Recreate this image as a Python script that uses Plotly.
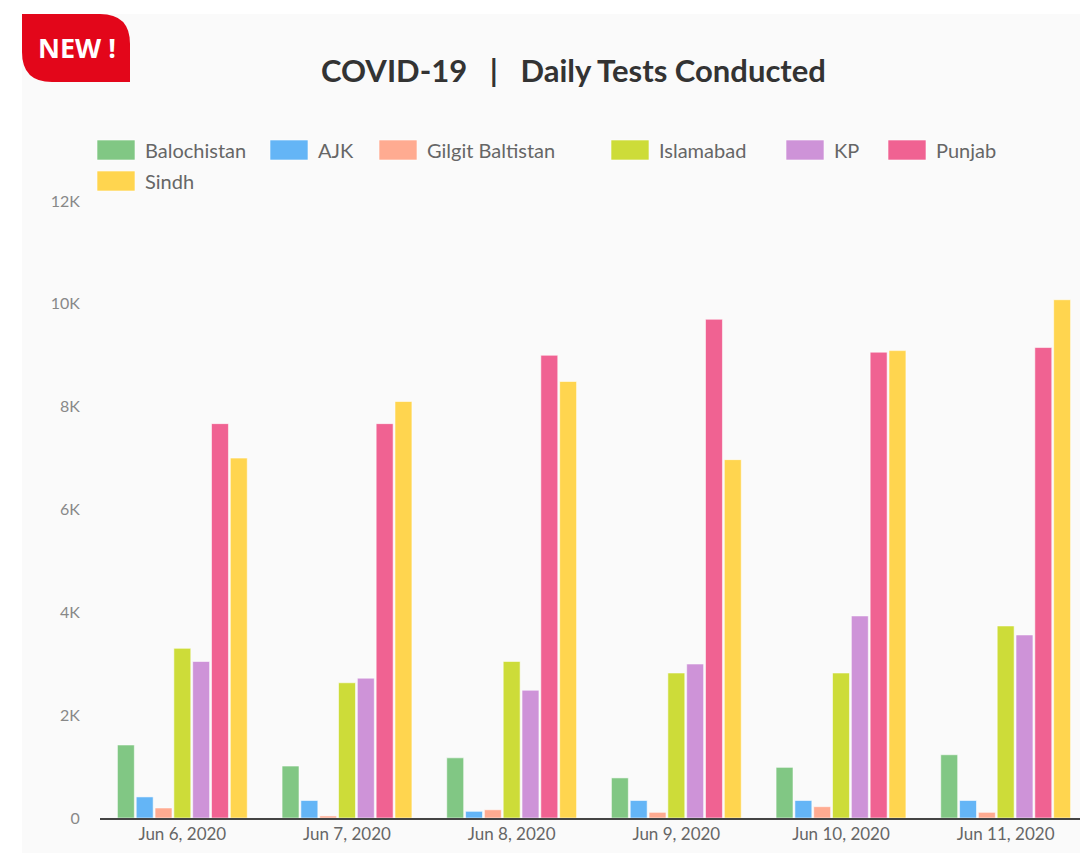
import plotly.graph_objects as go

# ---- data ----
dates = ["Jun 6, 2020", "Jun 7, 2020", "Jun 8, 2020", "Jun 9, 2020", "Jun 10, 2020", "Jun 11, 2020"]
series_names = ["Balochistan", "AJK", "Gilgit Baltistan", "Islamabad", "KP", "Punjab", "Sindh"]
balochistan = [1420, 1010, 1170, 780, 985, 1230]
ajk = [410, 340, 130, 340, 340, 340]
gilgit_baltistan = [195, 40, 160, 110, 220, 110]
islamabad = [3300, 2630, 3045, 2820, 2820, 3735]
kp = [3045, 2720, 2485, 2995, 3930, 3560]
punjab = [7670, 7670, 9000, 9700, 9060, 9150]
sindh = [7000, 8100, 8490, 6970, 9090, 10080]
series_values = [balochistan, ajk, gilgit_baltistan, islamabad, kp, punjab, sindh]
y_tickvals = [0, 2000, 4000, 6000, 8000, 10000, 12000]
y_ticktext = ["0", "2K", "4K", "6K", "8K", "10K", "12K"]

colors = ["#81C784", "#64B5F6", "#FFAB91", "#CDDC39", "#CE93D8", "#F06292", "#FFD54F"]

OFF = 8  # page body margin
W, H = 1088 - OFF, 853 - OFF
PL, PR, PT, PB = 100, 1088, 201, 818  # plot area in window pixels
ML, MR, MT, MB = PL - OFF, 1088 - PR, PT - OFF, 853 - PB
PW, PH = PR - PL, PB - PT


def px(x):
    return (x - PL) / PW


def py(y):
    return (PB - y) / PH


fig = go.Figure()
for name, vals, col in zip(series_names, series_values, colors):
    fig.add_trace(go.Bar(
        x=dates, y=vals, name=name,
        marker=dict(color=col, line=dict(color="rgba(255,255,255,0.55)", width=1)),
        showlegend=False,
    ))

shapes = []
annotations = []

# card background
shapes.append(dict(type="rect", xref="paper", yref="paper", layer="below",
                   x0=px(22), x1=px(1100), y0=py(870), y1=py(14),
                   fillcolor="#fafafa", line=dict(width=0)))

# NEW badge (leaf shape)
bx0, by0, bx1, by1, r = 22, 14, 130, 82, 30
path = (f"M {px(bx0)},{py(by0)} L {px(bx1 - r)},{py(by0)} "
        f"Q {px(bx1)},{py(by0)} {px(bx1)},{py(by0 + r)} "
        f"L {px(bx1)},{py(by1)} L {px(bx0 + r)},{py(by1)} "
        f"Q {px(bx0)},{py(by1)} {px(bx0)},{py(by1 - r)} Z")
shapes.append(dict(type="path", xref="paper", yref="paper", path=path,
                   fillcolor="#E3061A", line=dict(width=0)))
annotations.append(dict(xref="paper", yref="paper", x=px(77), y=py(47), text="<b>NEW !</b>",
                        showarrow=False, xanchor="center", yanchor="middle",
                        font=dict(family="Open Sans", size=27, color="white")))

# title
annotations.append(dict(xref="paper", yref="paper", x=px(573), y=py(70),
                        text="<b>COVID-19   |   Daily Tests Conducted</b>",
                        showarrow=False, xanchor="center", yanchor="middle",
                        font=dict(family="Lato", size=31, color="#333333")))

# custom legend
leg_x = [97, 270, 379, 611, 786, 888, 97]
leg_y = [150, 150, 150, 150, 150, 150, 181]
for name, col, lx, ly in zip(series_names, colors, leg_x, leg_y):
    shapes.append(dict(type="rect", xref="paper", yref="paper",
                       x0=px(lx), x1=px(lx + 38), y0=py(ly + 10), y1=py(ly - 10),
                       fillcolor=col, line=dict(color="rgba(255,255,255,0.6)", width=1)))
    annotations.append(dict(xref="paper", yref="paper", x=px(lx + 46), y=py(ly),
                            text=name, showarrow=False, xanchor="left", yanchor="middle",
                            font=dict(family="Lato", size=20, color="#666666")))

fig.update_layout(
    width=W, height=H,
    margin=dict(l=ML, r=MR, t=MT, b=MB),
    paper_bgcolor="white",
    plot_bgcolor="rgba(0,0,0,0)",
    barmode="group",
    bargap=0.2,
    bargroupgap=0.1,
    shapes=shapes,
    annotations=annotations,
    font=dict(family="Lato", color="#666666"),
    xaxis=dict(showline=True, linecolor="#444444", linewidth=1.5, showgrid=False,
               tickfont=dict(size=17, color="#666666"), ticks="", fixedrange=True),
    yaxis=dict(range=[0, 12000], tickvals=y_tickvals, ticktext=y_ticktext,
               showgrid=False, zeroline=False, showline=False,
               ticks="outside", ticklen=16, tickcolor="rgba(0,0,0,0)",
               tickfont=dict(size=16, color="#888888")),
)

fig.write_html("out.html")
